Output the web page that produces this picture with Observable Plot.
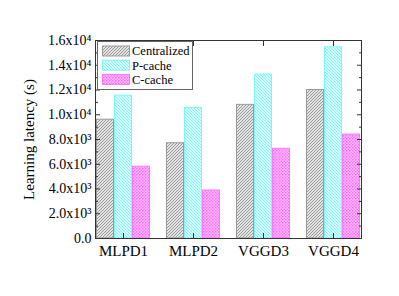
<!DOCTYPE html>
<html><head><meta charset="utf-8">
<script src="https://cdn.jsdelivr.net/npm/d3@7"></script>
<script src="https://cdn.jsdelivr.net/npm/@observablehq/plot@0.6"></script>
<style>
body{margin:0;background:#fff;}
#wrap{position:relative;width:399px;height:296px;}
#legend{position:absolute;left:97px;top:41px;}
</style></head><body>
<svg width="0" height="0" style="position:absolute">
  <defs>
    <pattern id="pat0" patternUnits="userSpaceOnUse" width="3" height="3">
      <rect width="3" height="3" fill="#e2e2e2"/>
      <path d="M-1,1 l2,-2 M0,3 l3,-3 M2,4 l2,-2" stroke="#8a8a8a" stroke-width="0.8"/>
    </pattern>
    <pattern id="pat1" patternUnits="userSpaceOnUse" width="3" height="3">
      <rect width="3" height="3" fill="#d6ffff"/>
      <path d="M-1,2 l2,2 M0,0 l3,3 M2,-1 l2,2" stroke="#6ef4f4" stroke-width="0.8"/>
    </pattern>
    <pattern id="pat2" patternUnits="userSpaceOnUse" width="3" height="3">
      <rect width="3" height="3" fill="#ffbdff"/>
      <rect x="0" y="0" width="1.5" height="1.5" fill="#ff6cff"/>
      <rect x="1.5" y="1.5" width="1.5" height="1.5" fill="#ff80ff"/>
    </pattern>
  </defs>
</svg>
<div id="wrap"></div>
<script>
const groups = ["MLPD1", "MLPD2", "VGGD3", "VGGD4"];
const series = ["Centralized", "P-cache", "C-cache"];
const centralized = [9600, 7700, 10800, 12000];
const pcache = [11550, 10550, 13250, 15450];
const ccache = [5800, 3880, 7250, 8400];
const yTicks = [0, 2000, 4000, 6000, 8000, 10000, 12000, 14000, 16000];
const yTickLabels = ["0.0", "2.0x10\u00B3", "4.0x10\u00B3", "6.0x10\u00B3", "8.0x10\u00B3", "1.0x10\u2074", "1.2x10\u2074", "1.4x10\u2074", "1.6x10\u2074"];
const yMinorTicks = [1000, 3000, 5000, 7000, 9000, 11000, 13000, 15000];
const yLabel = "Learning latency (s)";

const fontFamily = "'Liberation Serif', serif";
const fills = ["url(#pat0)", "url(#pat1)", "url(#pat2)"];
const strokes = ["#9a9a9a", "#7ff6f6", "#ff77ff"];

const valuesBySeries = [centralized, pcache, ccache];
const data = [];
series.forEach((s, si) => groups.forEach((g, gi) => data.push({group: g, series: s, value: valuesBySeries[si][gi]})));

const chart = Plot.plot({
  width: 399,
  height: 296,
  marginLeft: 94,
  marginRight: 38,
  marginTop: 40,
  marginBottom: 58,
  style: {fontFamily, fontSize: "14px", color: "#000", background: "#fff"},
  fx: {domain: groups, paddingInner: 0.2, paddingOuter: 0, label: null},
  x: {domain: series, padding: 0, axis: null},
  y: {domain: [0, 16000], axis: null},
  marks: [
    ...series.map((s, i) => Plot.barY(data.filter(d => d.series === s), {
      fx: "group", x: "series", y: "value", fill: fills[i], stroke: strokes[i], strokeWidth: 1, insetLeft: 0.5, insetRight: 0.5
    })),
    Plot.axisY({anchor: "left", ticks: yTicks, tickSize: -5, tickPadding: 9, tickFormat: d => yTickLabels[yTicks.indexOf(d)], label: null, stroke: "#333"}),
    Plot.axisY({anchor: "left", ticks: yMinorTicks, tickSize: -3, tickFormat: () => "", label: null, stroke: "#333"}),
    Plot.axisY({anchor: "left", ticks: [], label: yLabel, labelAnchor: "center", labelOffset: 72, labelArrow: "none", fontSize: 15}),
    Plot.axisY({anchor: "right", ticks: yTicks, tickSize: -5, tickFormat: () => "", label: null, stroke: "#333"}),
    Plot.axisY({anchor: "right", ticks: yMinorTicks, tickSize: -3, tickFormat: () => "", label: null, stroke: "#333"}),
    Plot.axisFx({anchor: "bottom", tickSize: -5, tickPadding: 12, label: null, fontSize: 15, stroke: "#333"}),
    Plot.axisFx({anchor: "top", tickSize: -5, tickFormat: () => "", label: null, stroke: "#333"}),
    Plot.frame({facet: "super", stroke: "#333", strokeWidth: 1})
  ]
});

const wrap = document.getElementById("wrap");
wrap.appendChild(chart);

// Legend (inside the plot frame, top-left), drawn as SVG text so it uses the same serif face
const lg = d3.select(wrap).append("svg")
  .attr("id", "legend")
  .attr("width", 96).attr("height", 49)
  .style("font-family", fontFamily)
  .style("font-size", "12.5px");
lg.append("rect").attr("x", 0.5).attr("y", 0.5).attr("width", 95).attr("height", 48)
  .attr("fill", "#fff").attr("stroke", "#666");
series.forEach((s, i) => {
  const cy = 10 + i * 14.2;
  lg.append("rect").attr("x", 5.5).attr("y", cy - 5).attr("width", 27).attr("height", 10)
    .attr("fill", fills[i]).attr("stroke", strokes[i]);
  lg.append("text").attr("x", 35).attr("y", cy).attr("dy", "0.35em").attr("fill", "#000").text(s);
});
</script>
</body></html>
